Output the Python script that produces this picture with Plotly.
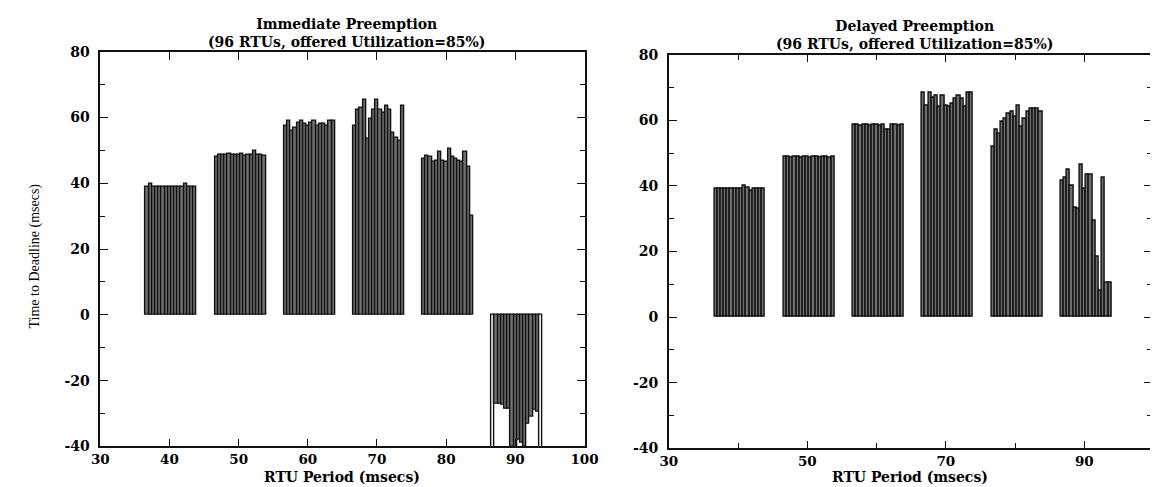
import plotly.graph_objects as go

# ---------------- data ----------------
# RTU periods (msecs): 16 RTUs per period group, 96 RTUs in total
periods_40 = [36.80, 37.26, 37.72, 38.18, 38.64, 39.10, 39.56, 40.02, 40.48, 40.94, 41.40, 41.86, 42.32, 42.78, 43.24, 43.70]
periods_50 = [46.80, 47.26, 47.72, 48.18, 48.64, 49.10, 49.56, 50.02, 50.48, 50.94, 51.40, 51.86, 52.32, 52.78, 53.24, 53.70]
periods_60 = [56.80, 57.26, 57.72, 58.18, 58.64, 59.10, 59.56, 60.02, 60.48, 60.94, 61.40, 61.86, 62.32, 62.78, 63.24, 63.70]
periods_70 = [66.80, 67.26, 67.72, 68.18, 68.64, 69.10, 69.56, 70.02, 70.48, 70.94, 71.40, 71.86, 72.32, 72.78, 73.24, 73.70]
periods_80 = [76.80, 77.26, 77.72, 78.18, 78.64, 79.10, 79.56, 80.02, 80.48, 80.94, 81.40, 81.86, 82.32, 82.78, 83.24, 83.70]
periods_90 = [86.80, 87.26, 87.72, 88.18, 88.64, 89.10, 89.56, 90.02, 90.48, 90.94, 91.40, 91.86, 92.32, 92.78, 93.24, 93.70]
rtu_periods = periods_40 + periods_50 + periods_60 + periods_70 + periods_80 + periods_90

# Time to deadline (msecs) - Immediate Preemption
imm_40 = [39, 40, 39, 39, 39, 39, 39, 39, 39, 39, 39, 39, 40, 39, 39, 39]
imm_50 = [48, 48.7, 48.7, 48.7, 49, 48.7, 48.7, 48.7, 49, 48.5, 48.7, 48.7, 49.8, 48.7, 48.7, 48.5]
imm_60 = [57.5, 59, 56, 57, 58.5, 59, 58, 57.5, 58.5, 59, 57.5, 58, 58, 57.5, 59, 59]
imm_70 = [57.5, 62.5, 63, 65.5, 53.5, 59.5, 62.5, 65.5, 62.5, 61.5, 63.5, 62.5, 55.5, 54, 53, 63.5]
imm_80 = [47.5, 48.5, 48, 46.5, 47, 49.5, 47, 46.5, 50.5, 48, 47.5, 47, 46.5, 49.5, 45, 30]
imm_90 = [-42, -27, -27, -27.5, -28.5, -28.5, -40, -41, -38, -39, -40, -33, -31, -29, -29.5, -42]
immediate = imm_40 + imm_50 + imm_60 + imm_70 + imm_80 + imm_90

# Time to deadline (msecs) - Delayed Preemption
del_40 = [39, 39, 39, 39, 39, 39, 39, 39, 39, 40, 39.5, 38.5, 39, 39, 39, 39]
del_50 = [49, 49, 48.7, 49, 49, 48.7, 49, 49, 48.7, 49, 49, 48.7, 49, 49, 48.5, 49]
del_60 = [58.8, 58.8, 58.5, 58.8, 58.8, 58.5, 58.8, 58.8, 58.5, 58.8, 57, 57, 58.8, 58.8, 58.5, 58.8]
del_70 = [68.5, 64.5, 68.5, 67, 67.5, 64, 67.5, 64.5, 64, 65, 66.5, 67.5, 66.5, 64, 68.5, 68.5]
del_80 = [52, 57, 56, 59.5, 60.5, 62, 62.5, 61, 64.5, 58, 60.5, 62.5, 63.5, 63.5, 63.5, 62.5]
del_90 = [41.5, 42.5, 45, 40, 33.5, 33, 46.5, 39, 43.5, 43.5, 29.5, 18.5, 8, 42.5, 10.5, 10.5]
delayed = del_40 + del_50 + del_60 + del_70 + del_80 + del_90

y_ticks = [-40, -20, 0, 20, 40, 60, 80]
y_tick_labels = ["-40", "-20", "0", "20", "40", "60", "80"]
x_ticks_left = [30, 40, 50, 60, 70, 80, 90, 100]
x_ticks_right = [30, 50, 70, 90]

titles = ["Immediate Preemption<br>(96 RTUs, offered Utilization=85%)",
          "Delayed Preemption<br>(96 RTUs, offered Utilization=85%)"]
x_title = "RTU Period (msecs)"
y_title = "Time to Deadline (msecs)"

# ---------------- style ----------------
W, H = 1158, 487
FILL = "#6f6f6f"
EDGE = "#111111"
BOLD = "DejaVu Serif, Liberation Serif, serif"
SERIF = "Liberation Serif, Times New Roman, serif"

# pixel boxes of the two plot areas
L_box = dict(x0=85, x1=579, y0=37, y1=445)
R_box = dict(x0=665, x1=1157.5, y0=40, y1=447)

def xdom(b):
    return [b["x0"] / W, b["x1"] / W]

def ydom(b):
    return [1 - b["y1"] / H, 1 - b["y0"] / H]

def py(p):
    return 1 - p / H

imm_colors = [FILL] * len(immediate)
# outer envelope bars of the 90 ms group are unfilled in the original
imm_colors[80] = "white"
imm_colors[95] = "white"

fig = go.Figure()
fig.add_trace(go.Bar(x=rtu_periods, y=immediate, width=0.46,
                     marker=dict(color=imm_colors, line=dict(color=EDGE, width=1.4)),
                     xaxis="x", yaxis="y", showlegend=False))
fig.add_trace(go.Bar(x=rtu_periods, y=delayed, width=0.46,
                     marker=dict(color=FILL, line=dict(color=EDGE, width=1.4)),
                     xaxis="x2", yaxis="y2", showlegend=False))

common = dict(showline=True, linecolor=EDGE, linewidth=1.5, mirror="ticks",
              ticks="inside", ticklen=8, tickwidth=1.3, tickcolor=EDGE,
              showgrid=False, zeroline=False)
xfont = dict(family=BOLD, size=13.5, color="black", weight="bold")
yfont = dict(family=BOLD, size=14, color="black", weight="bold")
xminor = dict(ticks="inside", dtick=10, tick0=30, ticklen=6, tickcolor=EDGE)
yminor = dict(ticks="inside", dtick=10, tick0=0, ticklen=5, tickcolor=EDGE)

fig.update_layout(
    width=W, height=H,
    margin=dict(l=0, r=0, t=0, b=0),
    paper_bgcolor="white", plot_bgcolor="white",
    barmode="overlay", bargap=0,
    xaxis=dict(domain=xdom(L_box), range=[30, 100], tickvals=x_ticks_left,
               tickfont=xfont, minor=xminor, anchor="y", ticklabelstandoff=0, **common),
    yaxis=dict(domain=ydom(L_box), range=[-40, 80], tickvals=y_ticks, ticktext=y_tick_labels,
               tickfont=yfont, minor=yminor, anchor="x", ticklabelstandoff=6, **common),
    xaxis2=dict(domain=xdom(R_box), range=[30, 99.7], tickvals=x_ticks_right,
                tickfont=xfont, minor=xminor, anchor="y2", ticklabelstandoff=0, **common),
    yaxis2=dict(domain=ydom(R_box), range=[-40, 80], tickvals=y_ticks, ticktext=y_tick_labels,
                tickfont=yfont, minor=yminor, anchor="x2", ticklabelstandoff=6, **common),
)

title_font = dict(family=BOLD, size=14, color="black", weight="bold")
for box, t, dy in zip([L_box, R_box], titles, [0, 2]):
    cx = (box["x0"] + box["x1"]) / 2 / W
    fig.add_annotation(text=t, x=cx + 4 / W, y=py(18 + dy), xref="paper", yref="paper",
                       xanchor="center", yanchor="middle", showarrow=False,
                       font=title_font, align="center")
    fig.add_annotation(text=x_title, x=cx, y=py(477), xref="paper", yref="paper",
                       xanchor="center", yanchor="middle", showarrow=False,
                       font=dict(family=BOLD, size=14, color="black", weight="bold"))

fig.add_annotation(text=y_title, x=18 / W, y=py(248), xref="paper", yref="paper",
                   xanchor="center", yanchor="middle", showarrow=False, textangle=-90,
                   font=dict(family=SERIF, size=14, color="black"))

fig.write_html("out.html")
